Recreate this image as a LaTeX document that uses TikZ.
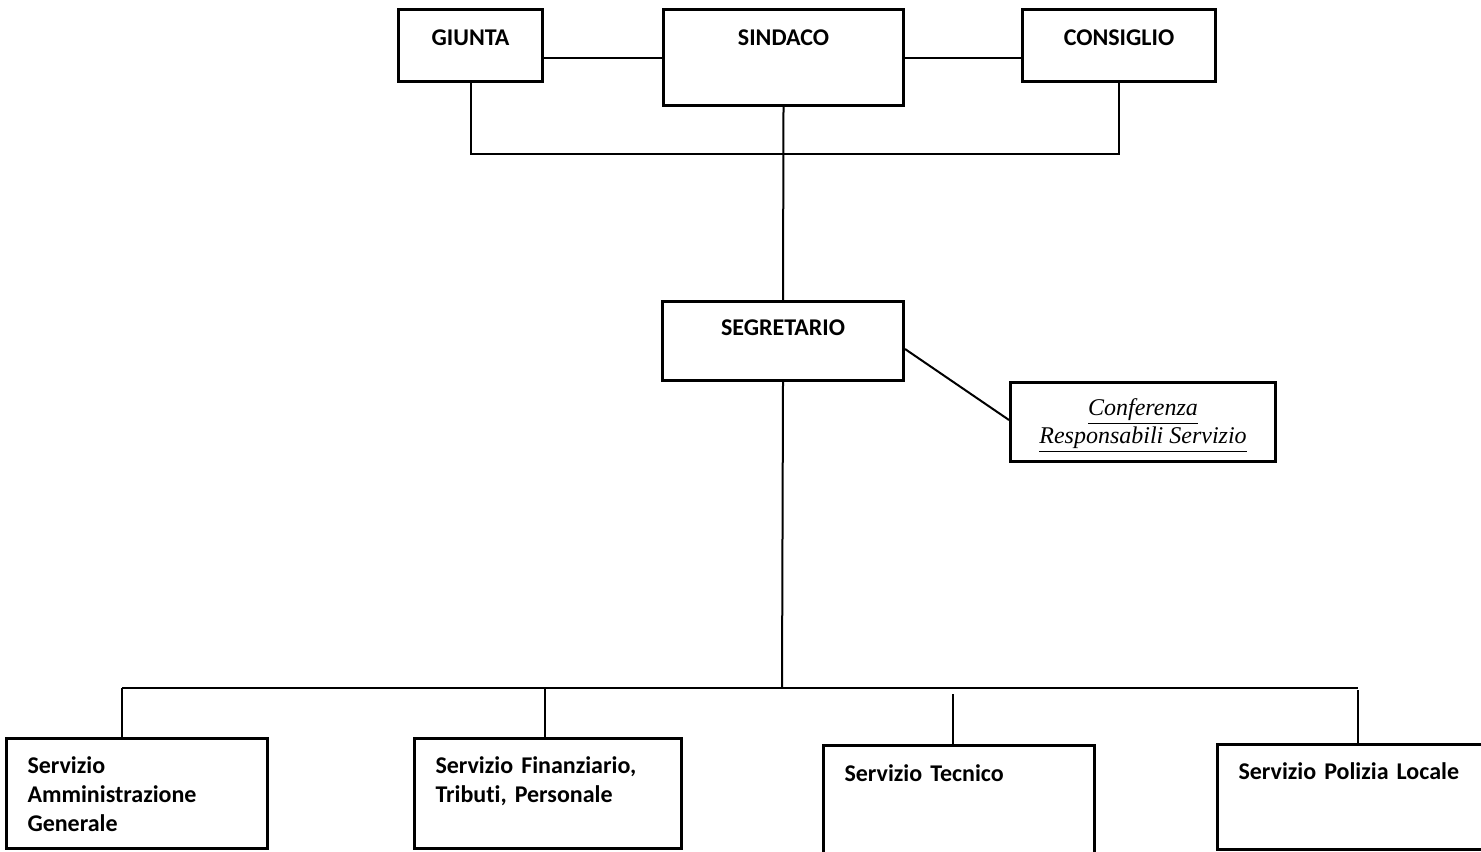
\documentclass[tikz,border=0pt]{standalone}
\usepackage{fontspec}
\setmainfont{Carlito}[Ligatures={NoCommon,NoContextual}]
\newfontfamily\confont{Liberation Serif}
\newcommand{\confline}[1]{\underline{#1\vphantom{p}}}
\begin{document}
\begin{tikzpicture}[x=0.5pt,y=-0.5pt,line width=1pt]

      \useasboundingbox (0,0) rectangle (1481,851);

      % organi di governo e segretario
      \begin{scope}[every node/.style={draw,line width=1.5pt,inner sep=0pt,anchor=north west,
          font=\bfseries\fontsize{12}{14.5}\selectfont,text height=18pt}]
        \node[minimum width=72pt,text depth=18pt]  (giunta)     at (397,8)   {GIUNTA};
        \node[minimum width=120pt,text depth=30pt] (sindaco)    at (662,8)   {SINDACO};
        \node[minimum width=96.5pt,text depth=18pt] (consiglio) at (1021,8)  {CONSIGLIO};
        \node[minimum width=120.5pt,text height=17pt,text depth=22.5pt] (segretario) at (661,300) {SEGRETARIO};
      \end{scope}

      \node[draw,line width=1.5pt,inner sep=0pt,anchor=north west,align=center,
        minimum width=132.5pt,text height=30.5pt,text depth=9pt,
        font=\confont\itshape\fontsize{12}{12.6}\selectfont] (conferenza) at (1009,381)
        {\confline{Conferenza}\\\confline{Responsabili Servizio}};

      % servizi
      \begin{scope}[every node/.style={draw,line width=1.5pt,inner xsep=10.5pt,inner ysep=0pt,
          anchor=north west,align=left,font=\bfseries\fontsize{12}{14.5}\selectfont,text height=17.5pt}]
        \node[text width=109.5pt,text depth=37.5pt] (amministrazione) at (5,737)
          {Servizio\\Amministrazione\\Generale};
        \node[text width=112.5pt,text depth=37.5pt] (finanziario) at (413,737)
          {Servizio Finanziario,\\Tributi, Personale};
        \node[text width=114.5pt,text height=18pt,text depth=50pt] (tecnico) at (822,744)
          {Servizio Tecnico};
        \node[text width=117pt,text depth=35pt] (polizia) at (1216,743)
          {Servizio Polizia Locale};
      \end{scope}

      \coordinate (topbus)  at (781,154);
      \coordinate (servbus) at (782,688);
      \coordinate (drop1) at (122,688);
      \coordinate (drop2) at (545,688);
      \coordinate (drop3) at (953,694);
      \coordinate (drop4) at (1358,690);
      \coordinate (busend) at (1358,688);

      \begin{scope}[every edge/.style={draw,line width=1pt}]
        \path (sindaco.west) edge (sindaco.west -| giunta.east);
        \path (sindaco.east) edge (sindaco.east -| consiglio.west);
        \path (sindaco.south) edge (segretario.north);
        \path ([yshift=-4pt]segretario.east) edge ([yshift=1pt]conferenza.west);
        \path (segretario.south) edge (servbus);
        \path (drop1) edge (busend);
        \path (drop1) edge (drop1 |- amministrazione.north);
        \path (drop2) edge (drop2 |- finanziario.north);
        \path (drop3) edge (drop3 |- tecnico.north);
        \path (drop4) edge (drop4 |- polizia.north);
      \end{scope}
      \draw (giunta.south) -- (giunta.south |- topbus) -- (consiglio.south |- topbus) -- (consiglio.south);

    \end{tikzpicture}
\end{document}
